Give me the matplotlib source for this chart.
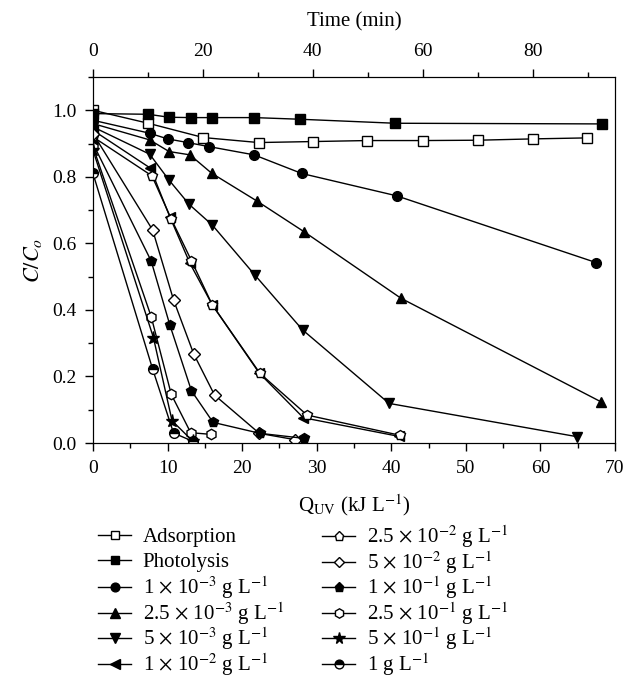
import numpy as np
import matplotlib
matplotlib.use('Agg')
import matplotlib.pyplot as plt
from matplotlib.ticker import MultipleLocator

plt.rcParams['font.family'] = ['Liberation Serif', 'DejaVu Serif']
plt.rcParams['mathtext.fontset'] = 'stix'

# C/Co vs Q_UV (kJ/L)
q_ads = [0, 7.4, 14.8, 22.2, 29.5, 36.8, 44.2, 51.6, 59.0, 66.3]
c_ads = [1.0, 0.961, 0.918, 0.903, 0.906, 0.909, 0.909, 0.910, 0.914, 0.917]

q_pho = [0, 7.4, 10.2, 13.1, 16.0, 21.6, 27.8, 40.5, 68.2]
c_pho = [0.99, 0.988, 0.979, 0.978, 0.978, 0.978, 0.973, 0.961, 0.959]

q_1e3 = [0, 7.6, 10.0, 12.7, 15.5, 21.6, 28.0, 40.7, 67.5]
c_1e3 = [0.97, 0.931, 0.914, 0.903, 0.891, 0.866, 0.810, 0.743, 0.542]

q_25e3 = [0, 7.6, 10.2, 13.0, 15.9, 22.0, 28.3, 41.3, 68.1]
c_25e3 = [0.96, 0.911, 0.876, 0.866, 0.811, 0.727, 0.635, 0.435, 0.124]

q_5e3 = [0, 7.6, 10.2, 12.9, 16.0, 21.7, 28.1, 39.7, 64.9]
c_5e3 = [0.95, 0.868, 0.790, 0.717, 0.655, 0.505, 0.340, 0.119, 0.019]

q_1e2 = [0, 7.7, 10.3, 13.0, 16.0, 22.3, 28.2, 41.0]
c_1e2 = [0.94, 0.826, 0.680, 0.540, 0.415, 0.210, 0.076, 0.020]

q_25e2 = [0, 7.9, 10.5, 13.2, 16.0, 22.4, 28.7, 41.2]
c_25e2 = [0.92, 0.803, 0.673, 0.548, 0.415, 0.209, 0.084, 0.023]

q_5e2 = [0, 8.0, 10.8, 13.5, 16.3, 22.3, 27.1]
c_5e2 = [0.93, 0.640, 0.430, 0.268, 0.144, 0.029, 0.010]

q_1e1 = [0, 7.8, 10.3, 13.2, 16.1, 22.4, 28.3]
c_1e1 = [0.90, 0.547, 0.355, 0.157, 0.062, 0.029, 0.014]

q_25e1 = [0, 7.8, 10.5, 13.1, 15.8]
c_25e1 = [0.89, 0.380, 0.146, 0.031, 0.026]

q_5e1 = [0, 8.1, 10.6, 13.4]
c_5e1 = [0.88, 0.317, 0.067, 0.005]

q_1 = [0, 8.0, 10.8, 13.4]
c_1 = [0.81, 0.222, 0.030, 0.005]

labels = ['Adsorption', 'Photolysis',
          r'1 $\times$ 10$^{-3}$ g L$^{-1}$',
          r'2.5 $\times$ 10$^{-3}$ g L$^{-1}$',
          r'5 $\times$ 10$^{-3}$ g L$^{-1}$',
          r'1 $\times$ 10$^{-2}$ g L$^{-1}$',
          r'2.5 $\times$ 10$^{-2}$ g L$^{-1}$',
          r'5 $\times$ 10$^{-2}$ g L$^{-1}$',
          r'1 $\times$ 10$^{-1}$ g L$^{-1}$',
          r'2.5 $\times$ 10$^{-1}$ g L$^{-1}$',
          r'5 $\times$ 10$^{-1}$ g L$^{-1}$',
          r'1 g L$^{-1}$']

series = [(q_ads, c_ads, 's', 'white', 6.5),
          (q_pho, c_pho, 's', 'black', 6.5),
          (q_1e3, c_1e3, 'o', 'black', 7),
          (q_25e3, c_25e3, '^', 'black', 7.5),
          (q_5e3, c_5e3, 'v', 'black', 7.5),
          (q_1e2, c_1e2, '<', 'black', 7.5),
          (q_25e2, c_25e2, 'p', 'white', 7.5),
          (q_5e2, c_5e2, 'D', 'white', 6),
          (q_1e1, c_1e1, 'p', 'black', 7.5),
          (q_25e1, c_25e1, 'h', 'white', 7.5),
          (q_5e1, c_5e1, '*', 'black', 9.5),
          (q_1, c_1, 'o', 'half', 7)]

W, H = 626, 684
fig = plt.figure(figsize=(W / 100, H / 100), dpi=100)
ax = fig.add_axes([93 / W, 1 - 443 / H, 522 / W, 366 / H])

handles = []
for (q, c, m, fc, ms), lab in zip(series, labels):
    if fc == 'half':
        h, = ax.plot(q, c, '-', color='black', lw=1, marker=m, ms=ms,
                     fillstyle='top', markerfacecolor='black',
                     markerfacecoloralt='white', markeredgecolor='black',
                     mew=1, label=lab)
    else:
        h, = ax.plot(q, c, '-', color='black', lw=1, marker=m, ms=ms,
                     markerfacecolor=fc, markeredgecolor='black', mew=1,
                     label=lab)
    handles.append(h)

ax.set_xlim(0, 70)
ax.set_ylim(0, 1.1)
ax.xaxis.set_major_locator(MultipleLocator(10))
ax.xaxis.set_minor_locator(MultipleLocator(5))
ax.set_yticks([0, 0.2, 0.4, 0.6, 0.8, 1.0])
ax.set_yticklabels(['0.0', '0.2', '0.4', '0.6', '0.8', '1.0'])
ax.yaxis.set_minor_locator(MultipleLocator(0.1))
ax.tick_params(which='both', direction='out', labelsize=14, width=1)
ax.tick_params(which='major', length=6, pad=6)
ax.tick_params(which='minor', length=3.5)
ax.set_xlabel(r'Q$_{\mathrm{UV}}$ (kJ L$^{-1}$)', fontsize=15, labelpad=11)
ax.set_ylabel(r'$C/C_o$', fontsize=16, labelpad=6)

ax2 = ax.twiny()
ax2.set_xlim(0, 95)
ax2.xaxis.set_major_locator(MultipleLocator(20))
ax2.xaxis.set_minor_locator(MultipleLocator(10))
ax2.tick_params(which='both', direction='out', labelsize=14, width=1)
ax2.tick_params(which='major', length=6, pad=6)
ax2.tick_params(which='minor', length=3.5)
ax2.set_xlabel('Time (min)', fontsize=15, labelpad=12)

# legend: two columns of six rows, evenly spaced
row0, dy = 537, 25.5
col_x = [98, 322]
for i, (h, lab) in enumerate(zip(handles, labels)):
    col, row = divmod(i, 6)
    fig.legend([h], [lab], loc='center left',
               bbox_to_anchor=(col_x[col] / W, 1 - (row0 + row * dy) / H),
               frameon=False, fontsize=15, handlelength=1.6,
               handletextpad=0.55, borderaxespad=0, borderpad=0,
               markerscale=0.9)

fig.savefig('out.png', dpi=100)
